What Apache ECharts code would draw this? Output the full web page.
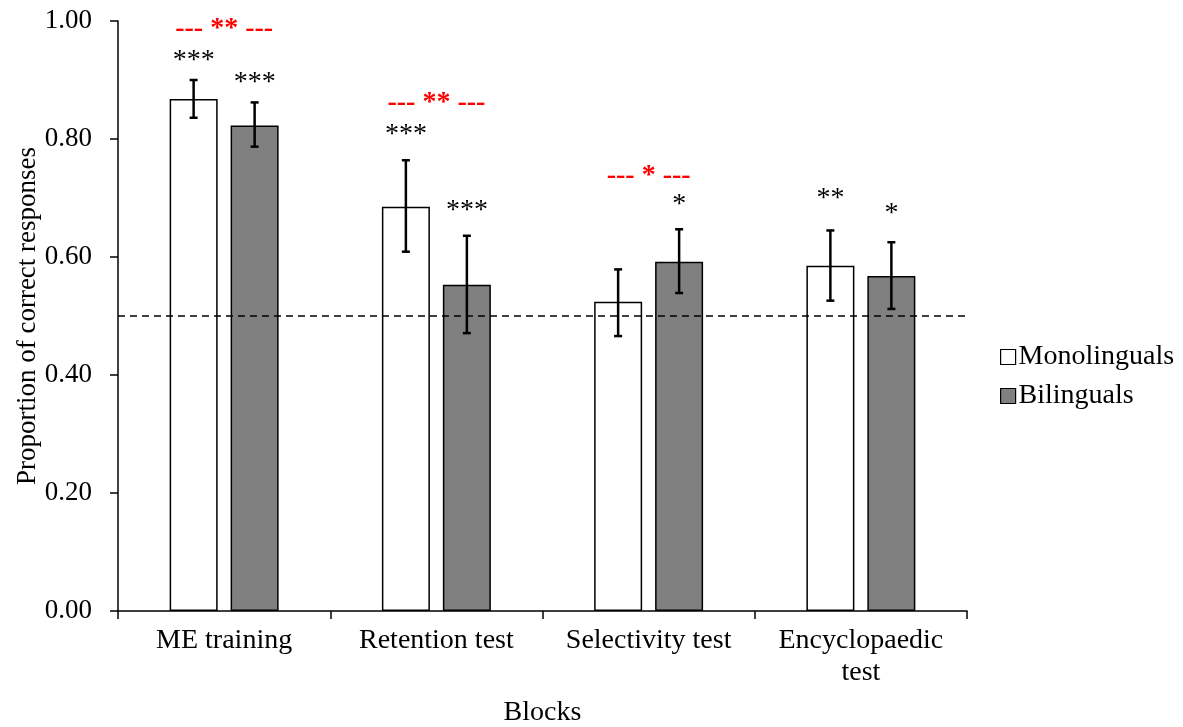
<!DOCTYPE html>
<html>
<head>
<meta charset="utf-8">
<title>Proportion of correct responses</title>
<script src="https://cdn.jsdelivr.net/npm/echarts@6/dist/echarts.min.js"></script>
<style>
html, body { margin: 0; padding: 0; background: #fff; }
#chart { width: 1183px; height: 727px; }
</style>
</head>
<body>
<div id="chart"></div>
<script>
// data
var categories = ['ME training', 'Retention test', 'Selectivity test', 'Encyclopaedic\ntest'];
var mono = [0.868, 0.685, 0.524, 0.585];
var monoLow = [0.836, 0.609, 0.466, 0.526];
var monoHigh = [0.900, 0.764, 0.579, 0.645];
var bili = [0.823, 0.553, 0.592, 0.568];
var biliLow = [0.787, 0.471, 0.539, 0.512];
var biliHigh = [0.862, 0.636, 0.647, 0.625];
var monoStars = ['***', '***', '', '**'];
var monoStarY = [0.933, 0.808, null, 0.699];
var biliStars = ['***', '***', '*', '*'];
var biliStarY = [0.895, 0.679, 0.689, 0.673];
var groupDiff = ['--- ** ---', '--- ** ---', '--- * ---', ''];
var groupDiffY = [0.986, 0.861, 0.738, null];
var chanceLevel = 0.5;

var FONT = "'Liberation Serif', 'Times New Roman', serif";
var BAR_W = 48;
var OFFSET = 30.5; // half distance between the two bars in a group

function errorBars(low, high, dx) {
    return {
        type: 'custom',
        z: 5,
        data: low.map(function (v, i) { return [i, v, high[i]]; }),
        renderItem: function (params, api) {
            var lo = api.coord([api.value(0), api.value(1)]);
            var hi = api.coord([api.value(0), api.value(2)]);
            var x = lo[0] + dx;
            var st = { stroke: '#000', lineWidth: 2.5 };
            return {
                type: 'group',
                children: [
                    { type: 'line', shape: { x1: x, y1: lo[1], x2: x, y2: hi[1] }, style: st },
                    { type: 'line', shape: { x1: x - 4, y1: lo[1], x2: x + 4, y2: lo[1] }, style: st },
                    { type: 'line', shape: { x1: x - 4, y1: hi[1], x2: x + 4, y2: hi[1] }, style: st }
                ]
            };
        }
    };
}

function textMarks(texts, ys, dx, color, bold, size) {
    var data = [];
    texts.forEach(function (t, i) {
        if (t) data.push([i, ys[i], t]);
    });
    return {
        type: 'custom',
        z: 6,
        data: data,
        renderItem: function (params, api) {
            var p = api.coord([api.value(0), api.value(1)]);
            return {
                type: 'text',
                x: p[0] + dx,
                y: p[1],
                style: {
                    text: data[params.dataIndex][2],
                    fill: color,
                    font: (bold ? 'bold ' : '') + size + 'px ' + FONT,
                    textAlign: 'center',
                    textVerticalAlign: 'middle'
                }
            };
        }
    };
}

var myChart = echarts.init(document.getElementById('chart'));
var option = {
    backgroundColor: '#fff',
    animation: false,
    textStyle: { fontFamily: FONT },
    grid: { left: 118, right: 216, top: 21, bottom: 116, containLabel: false, outerBoundsMode: 'none' },
    legend: {
        orient: 'vertical',
        left: 995,
        top: 338,
        itemWidth: 15,
        itemHeight: 15,
        itemGap: 11,
        icon: 'rect',
        itemStyle: { borderWidth: 1.2 },
        textStyle: { fontFamily: FONT, fontSize: 28, color: '#000', padding: [0, 0, 0, -2] },
        data: ['Monolinguals', 'Bilinguals']
    },
    xAxis: {
        type: 'category',
        data: categories,
        name: 'Blocks',
        nameLocation: 'middle',
        nameGap: 88,
        nameMoveOverlap: false,
        nameTextStyle: { fontFamily: FONT, fontSize: 28, color: '#000' },
        axisLine: { lineStyle: { color: '#000', width: 1.5 } },
        axisTick: { show: true, interval: 0, length: 8, lineStyle: { color: '#000', width: 1.5 } },
        axisLabel: { interval: 0, hideOverlap: false, fontFamily: FONT, fontSize: 28, color: '#000', margin: 14, lineHeight: 32 }
    },
    yAxis: {
        type: 'value',
        min: 0,
        max: 1,
        interval: 0.2,
        name: 'Proportion of correct responses',
        nameLocation: 'middle',
        nameGap: 77,
        nameMoveOverlap: false,
        nameTextStyle: { fontFamily: FONT, fontSize: 27, color: '#000' },
        axisLine: { show: true, lineStyle: { color: '#000', width: 1.5 } },
        axisTick: { show: true, length: 8, lineStyle: { color: '#000', width: 1.5 } },
        splitLine: { show: false },
        axisLabel: {
            fontFamily: FONT, fontSize: 27, color: '#000', margin: 26,
            formatter: function (v) { return v.toFixed(2); }
        }
    },
    series: [
        {
            name: 'Monolinguals',
            type: 'bar',
            data: mono,
            barWidth: BAR_W,
            barGap: '27%',
            itemStyle: { color: '#fff', borderColor: '#000', borderWidth: 1.5 },
            markLine: {
                silent: true,
                symbol: 'none',
                label: { show: false },
                lineStyle: { color: '#000', type: [7, 5], width: 1.5 },
                data: [{ yAxis: chanceLevel }]
            }
        },
        {
            name: 'Bilinguals',
            type: 'bar',
            data: bili,
            barWidth: BAR_W,
            itemStyle: { color: '#808080', borderColor: '#000', borderWidth: 1.5 }
        },
        errorBars(monoLow, monoHigh, -OFFSET),
        errorBars(biliLow, biliHigh, OFFSET),
        textMarks(monoStars, monoStarY, -OFFSET, '#000', false, 28),
        textMarks(biliStars, biliStarY, OFFSET, '#000', false, 28),
        textMarks(groupDiff, groupDiffY, 0, '#ff0000', true, 28)
    ]
};
myChart.setOption(option);
</script>
</body>
</html>
